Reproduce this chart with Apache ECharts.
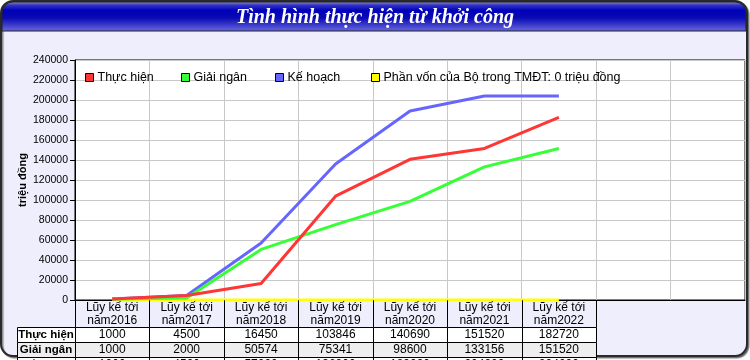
<!DOCTYPE html>
<html>
<head>
<meta charset="utf-8">
<script src="https://cdn.jsdelivr.net/npm/echarts@6/dist/echarts.min.js"></script>
<style>
html,body{margin:0;padding:0;background:#fff;}
#chart{width:750px;height:360px;}
</style>
</head>
<body>
<div id="chart"></div>
<script>
// ---- data ----
const categories = ['Lũy kế tới\nnăm2016','Lũy kế tới\nnăm2017','Lũy kế tới\nnăm2018','Lũy kế tới\nnăm2019','Lũy kế tới\nnăm2020','Lũy kế tới\nnăm2021','Lũy kế tới\nnăm2022','',''];
const seriesNames = ['Thực hiện','Giải ngân','Kế hoạch','Phần vốn của Bộ trong TMĐT: 0 triệu đồng'];
const thucHien = [1000, 4500, 16450, 103846, 140690, 151520, 182720];
const giaiNgan = [1000, 2000, 50574, 75341, 98600, 133156, 151520];
const keHoach  = [1000, 4500, 57000, 136000, 189000, 204000, 204000];
const phanVon  = [0, 0, 0, 0, 0, 0, 0];
const tableRowNames = ['Thực hiện','Giải ngân','Kế hoạch'];
const tableRowValues = [thucHien, giaiNgan, keHoach];
const yTicks = {min: 0, max: 240000, interval: 20000};
const title = 'Tình hình thực hiện từ khởi công';
const yName = 'triệu đồng';

// ---- layout / styles ----
const colors = ['#FF3636', '#36FF36', '#6666FF', '#FFFF00'];
const legendLeft = [80, 176, 270, 366];
const LABEL_W = 58;
const HEADER_H = 1.8;   // in table-row units
const ROW_FILL = ['#FFFFFF', '#EEEEEE', '#FFFFFF'];
const FONT = 'Liberation Sans, Arial, sans-serif';

// build table cells
const cells = [];
const nCols = thucHien.length;
for (let c = 0; c < nCols; c++) {
  cells.push({kind: 'header', col: c, y0: 0, y1: HEADER_H, text: categories[c], fill: null});
}
tableRowNames.forEach((name, r) => {
  const y0 = HEADER_H + r, y1 = HEADER_H + r + 1;
  cells.push({kind: 'label', col: 0, y0, y1, text: name, fill: ROW_FILL[r]});
  tableRowValues[r].forEach((v, c) => {
    cells.push({kind: 'cell', col: c, y0, y1, text: String(v), fill: ROW_FILL[r]});
  });
});

function crisp(v) { return Math.round(v) + 0.5; }

function renderCell(params, api) {
  const cell = cells[params.dataIndex];
  const w = api.size([1, 0])[0];
  const cx = api.coord([cell.col, 0])[0];
  let x0 = cx - w / 2, x1 = cx + w / 2;
  if (cell.kind === 'label') { x1 = x0; x0 = x0 - LABEL_W; }
  const y0 = api.coord([cell.col, cell.y0])[1];
  const y1 = api.coord([cell.col, cell.y1])[1];
  const X0 = crisp(x0), X1 = crisp(x1), Y0 = crisp(y0), Y1 = crisp(y1);
  const children = [];
  if (cell.kind === 'header') {
    children.push({type: 'line', shape: {x1: X0, y1: Y0, x2: X0, y2: Y1}, style: {stroke: '#000', lineWidth: 1}});
    children.push({type: 'line', shape: {x1: X1, y1: Y0, x2: X1, y2: Y1}, style: {stroke: '#000', lineWidth: 1}});
  } else {
    children.push({type: 'rect', shape: {x: X0, y: Y0, width: X1 - X0, height: Y1 - Y0},
      style: {fill: cell.fill, stroke: '#000', lineWidth: 1}});
  }
  children.push({type: 'text', style: {
    text: cell.text, x: (x0 + x1) / 2, y: (y0 + y1) / 2 + 0.5,
    textAlign: 'center', textVerticalAlign: 'middle',
    fontSize: cell.kind === 'label' ? 11.5 : 12, fontFamily: FONT, fontWeight: cell.kind === 'label' ? 'bold' : 'normal',
    lineHeight: 12.5, fill: '#000'
  }});
  return {type: 'group', children};
}

const chart = echarts.init(document.getElementById('chart'), null, {renderer: 'canvas'});

const lineSeries = [thucHien, giaiNgan, keHoach, phanVon].map((d, i) => ({
  name: seriesNames[i], type: 'line', data: d, xAxisIndex: 0, yAxisIndex: 0,
  symbol: 'none', showSymbol: false, color: colors[i],
  lineStyle: {width: 3, color: colors[i]}, z: 10 - i, animation: false
}));

const legends = seriesNames.map((n, i) => ({
  data: [n], left: legendLeft[i], top: 66, icon: 'rect', itemWidth: 8, itemHeight: 8,
  itemStyle: {borderColor: '#000', borderWidth: 1}, selectedMode: false,
  textStyle: {fontSize: 12.5, fontFamily: FONT, color: '#000', padding: [0, 0, 0, -1]}
}));

chart.setOption({
  animation: false,
  backgroundColor: '#fff',
  title: {
    text: title, left: 'center', top: 3,
    textStyle: {color: '#fff', fontFamily: 'Liberation Serif, Times New Roman, serif', fontStyle: 'italic',
      fontWeight: 'bold', fontSize: 20}
  },
  graphic: [
    {type: 'rect', z: -5, shape: {x: 1, y: 1, width: 746, height: 355, r: 12},
      style: {fill: '#EEEEFC', stroke: '#2a2a2a', lineWidth: 2, shadowColor: 'rgba(0,0,0,0.45)', shadowOffsetX: 1.5, shadowOffsetY: 1.5, shadowBlur: 1}},
    {type: 'rect', z: -4, shape: {x: 2, y: 2, width: 744, height: 29, r: [11, 11, 0, 0]},
      style: {
        fill: new echarts.graphic.LinearGradient(0, 0, 0, 1, [
          {offset: 0, color: '#9A9AD8'},
          {offset: 0.12, color: '#3434C8'},
          {offset: 0.3, color: '#0000B8'},
          {offset: 0.55, color: '#0A0AB4'},
          {offset: 1, color: '#6A6AE0'}
        ]),
        stroke: '#222', lineWidth: 1
      }}
  ],
  legend: legends,
  grid: [
    {left: 75, right: 5, top: 60, bottom: 60, show: true, backgroundColor: '#fff', borderColor: '#000', borderWidth: 1, containLabel: false},
    {left: 75, right: 5, top: 300, height: 60, show: false, containLabel: false}
  ],
  xAxis: [
    {type: 'category', gridIndex: 0, data: categories, boundaryGap: true,
      axisLine: {show: true, lineStyle: {color: '#000', width: 1}},
      axisTick: {show: false}, axisLabel: {show: false},
      splitLine: {show: true, interval: 0, lineStyle: {color: '#C8C8C8', width: 1}}},
    {type: 'category', gridIndex: 1, data: categories, boundaryGap: true, show: false}
  ],
  yAxis: [
    {type: 'value', gridIndex: 0, min: yTicks.min, max: yTicks.max, interval: yTicks.interval,
      name: yName, nameLocation: 'middle', nameGap: 47, nameRotate: 90, nameMoveOverlap: false,
      nameTextStyle: {fontSize: 11, fontWeight: 'bold', fontFamily: FONT, color: '#000'},
      axisLine: {show: true, lineStyle: {color: '#000'}},
      axisTick: {show: true, length: 5, lineStyle: {color: '#000'}},
      axisLabel: {fontSize: 10.5, fontFamily: FONT, color: '#000', margin: 7, formatter: v => String(v)},
      splitLine: {show: true, lineStyle: {color: '#C8C8C8', width: 1}}},
    {type: 'value', gridIndex: 1, min: 0, max: 4, inverse: true, show: false}
  ],
  series: lineSeries.concat([{
    type: 'custom', name: 'table', xAxisIndex: 1, yAxisIndex: 1, clip: false, z: 20,
    renderItem: renderCell, data: cells.map(c => [c.col, c.y0]), silent: true, animation: false
  }])
});
</script>
</body>
</html>
